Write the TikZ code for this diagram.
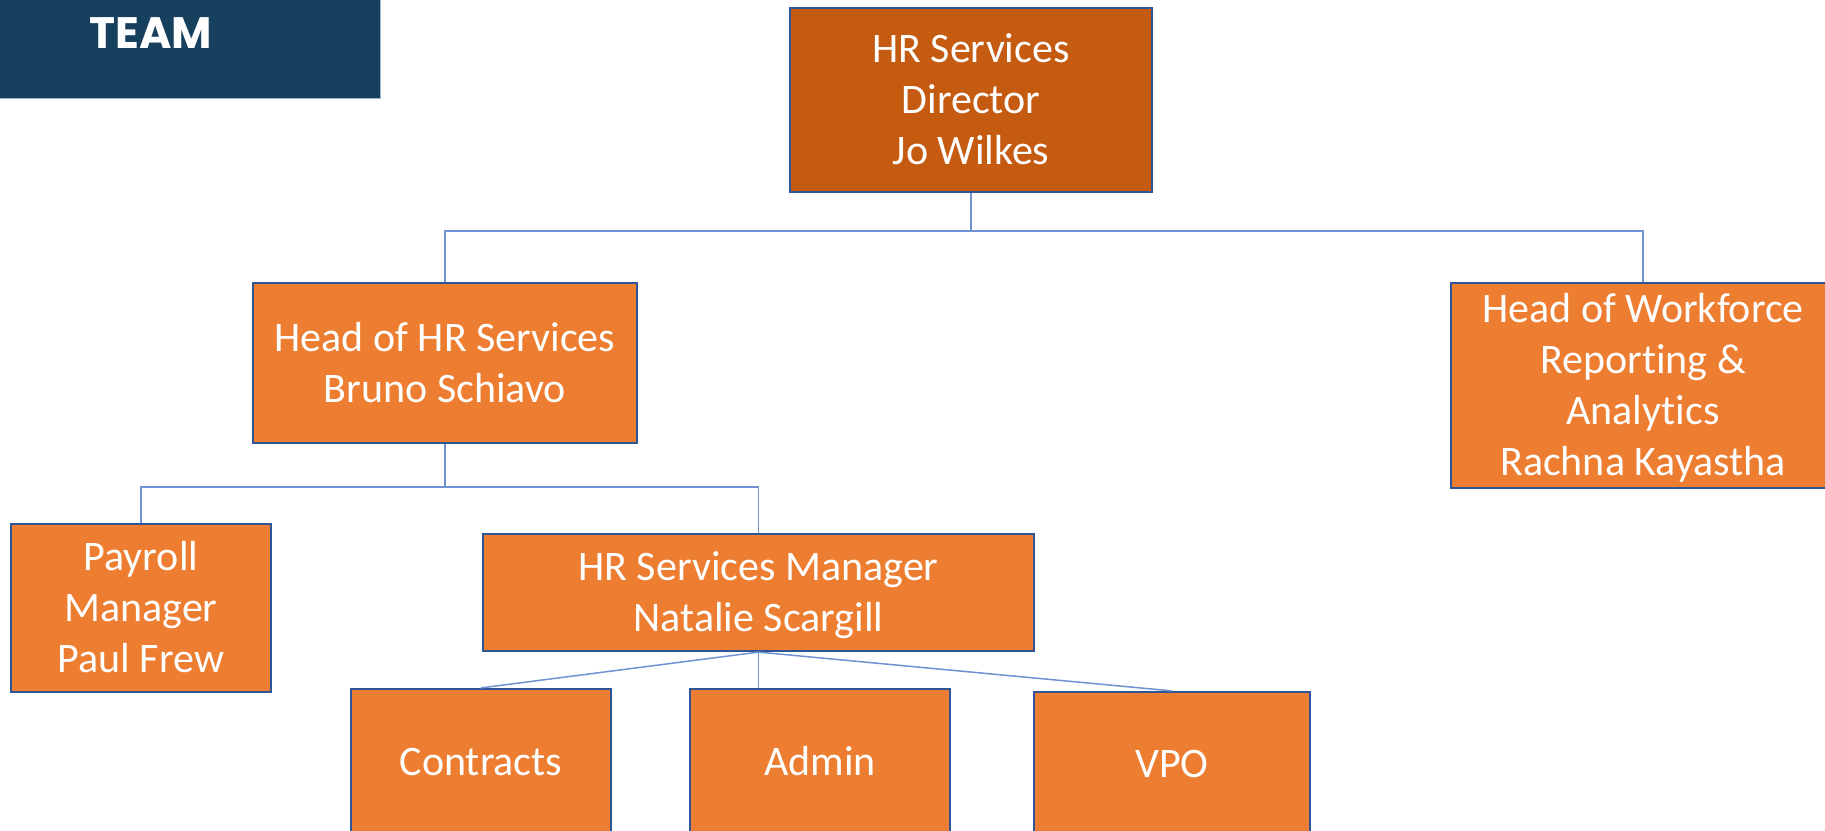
\documentclass[tikz,border=0pt]{standalone}
\usepackage{fontspec}
\setmainfont{Carlito}[Ligatures=NoCommon]
\newfontfamily\teamfont{Poppins}
\definecolor{boxfill}{HTML}{ED7D31}
\definecolor{dirfill}{HTML}{C55A11}
\definecolor{boxline}{HTML}{2F5597}
\definecolor{conn}{HTML}{6F92D3}
\definecolor{teambg}{HTML}{17405F}
\definecolor{teamedge}{HTML}{A3B5C8}
\newcommand\lnstrut{\rule[-12pt]{0pt}{51pt}}
\begin{document}
\begin{tikzpicture}[x=1pt,y=-1pt,
  org/.style={draw=boxline, line width=2.2pt, fill=boxfill, text=white, align=center, inner sep=0pt, font=\fontsize{42}{51}\selectfont},
  link/.style={draw=conn, line width=1.5pt}]
\useasboundingbox (0,0) rectangle (1825,830);
\clip (0,0) rectangle (1825,830);
\fill[white] (0,0) rectangle (1825,830);
% title banner
\node[fill=teambg, minimum width=380pt, minimum height=98pt, inner sep=0pt, anchor=north west] (team) at (0,0) {};
\draw[teamedge, line width=1pt] (team.north east) -- (team.south east) -- (team.south west);
\node[text=white, font=\teamfont\bfseries\fontsize{44}{50}\selectfont, anchor=base, inner sep=0pt] (teamlbl) at (151,48) {TEAM};
% boxes
\node[org, fill=dirfill, minimum width=362pt, minimum height=184pt] (dir) at (971,100) {\lnstrut HR Services\\\lnstrut Director\\\lnstrut Jo Wilkes};
\node[org, minimum width=384pt, minimum height=160pt] (hhr) at (445,363) {\lnstrut Head of HR Services\\\lnstrut Bruno Schiavo};
\node[org, minimum width=384pt, minimum height=205pt] (wf) at (1643,385.5) {\lnstrut Head of Workforce\\\lnstrut Reporting \&\\\lnstrut Analytics\\\lnstrut Rachna Kayastha};
\node[org, minimum width=260pt, minimum height=168pt] (pay) at (141,608) {\lnstrut Payroll\\\lnstrut Manager\\\lnstrut Paul Frew};
\node[org, minimum width=551pt, minimum height=117pt] (hsm) at (758.5,592.5) {\lnstrut HR Services Manager\\\lnstrut Natalie Scargill};
\node[org, minimum width=260pt, minimum height=146pt] (con) at (481,762) {\lnstrut Contracts};
\node[org, minimum width=260pt, minimum height=146pt] (adm) at (820,762) {\lnstrut Admin};
\node[org, minimum width=276pt, minimum height=143pt] (vpo) at (1172,763.5) {\lnstrut VPO};
% connectors
\coordinate (b1) at (971,231);
\coordinate (b2) at (445,487);
\draw[link] (dir.south) -- (b1);
\draw[link] (hhr.north) |- (b1) -| (wf.north);
\draw[link] (hhr.south) -- (b2);
\draw[link] (pay.north) |- (b2) -| (hsm.north);
\draw[link] (hsm.south) -- (con.north);
\draw[link] (hsm.south) -- (hsm.south |- adm.north);
\draw[link] (hsm.south) -- (vpo.north);
\end{tikzpicture}
\end{document}
